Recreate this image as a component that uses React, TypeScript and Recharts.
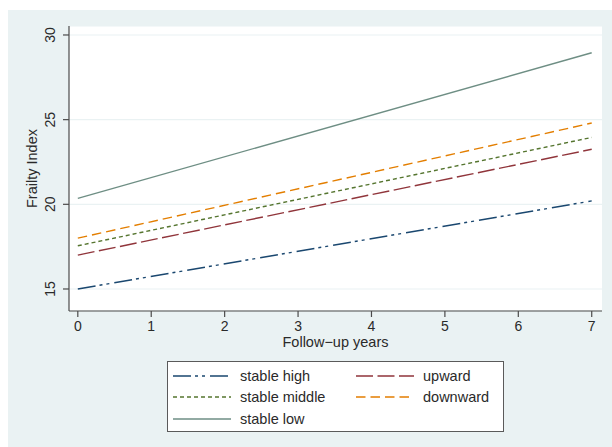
import { LineChart, Line, XAxis, YAxis, CartesianGrid, Legend, Label } from "recharts";

const YEARS = [0, 7];
const STABLE_HIGH = [15.0, 20.2];
const UPWARD = [17.0, 23.25];
const STABLE_MIDDLE = [17.55, 23.95];
const DOWNWARD = [18.0, 24.8];
const STABLE_LOW = [20.35, 28.95];

const X_TICKS = [0, 1, 2, 3, 4, 5, 6, 7];
const Y_TICKS = [15, 20, 25, 30];

// legend order follows Stata's row-wise fill
const SERIES = [
  { key: "stableHigh", name: "stable high", color: "#1a476f", dash: "18 4 3 4 3 5" },
  { key: "upward", name: "upward", color: "#90353b", dash: "17 4.5" },
  { key: "stableMiddle", name: "stable middle", color: "#55752f", dash: "4 3" },
  { key: "downward", name: "downward", color: "#e37e00", dash: "9.5 5" },
  { key: "stableLow", name: "stable low", color: "#6e8e84", dash: undefined as string | undefined },
];

const data = YEARS.map((year, i) => ({
  year,
  stableHigh: STABLE_HIGH[i],
  upward: UPWARD[i],
  stableMiddle: STABLE_MIDDLE[i],
  downward: DOWNWARD[i],
  stableLow: STABLE_LOW[i],
}));

const FONT = '"Liberation Sans", Arial, Helvetica, sans-serif';
const TEXT = "#2a2a2a";
const AXIS = "#4a4a4a";

function YTick(props: any) {
  const { y, payload } = props;
  return (
    <text
      x={42}
      y={y}
      transform={`rotate(-90, 42, ${y})`}
      textAnchor="middle"
      dominantBaseline="central"
      fill={TEXT}
      fontSize={14}
      fontFamily={FONT}
    >
      {payload.value}
    </text>
  );
}

function renderLegend() {
  return (
    <div
      style={{
        boxSizing: "border-box",
        width: 337,
        height: 71,
        border: "1px solid #5a5a5a",
        background: "#fff",
        display: "grid",
        gridTemplateColumns: "183px 150px",
        gridAutoRows: "21.65px",
        paddingTop: 3,
        paddingLeft: 5,
        fontFamily: FONT,
        fontSize: 14.5,
        color: TEXT,
      }}
    >
      {SERIES.map((s) => (
        <div key={s.key} style={{ display: "flex", alignItems: "center" }}>
          <svg width={58} height={4} style={{ marginRight: 9 }}>
            <line x1={0} y1={2} x2={58} y2={2} stroke={s.color} strokeWidth={1.3} strokeDasharray={s.dash} />
          </svg>
          <span>{s.name}</span>
        </div>
      ))}
    </div>
  );
}

export default function App() {
  return (
    <div style={{ position: "absolute", left: 8, top: 10, width: 604, height: 437, background: "#eaf2f3" }}>
      <LineChart width={604} height={437} data={data} margin={{ top: 16, right: 10, left: 0, bottom: 106 }}>
        <CartesianGrid vertical={false} stroke="#eaf2f3" strokeWidth={1.2} fill="#fff" fillOpacity={1} />
        <XAxis
          type="number"
          dataKey="year"
          domain={[-0.12, 7.14]}
          ticks={X_TICKS}
          height={30}
          tickSize={6}
          tickMargin={4}
          stroke={AXIS}
          strokeWidth={1.2}
          tick={{ fill: TEXT, fontSize: 14, fontFamily: FONT }}
        >
          <Label value="Follow−up years" position="bottom" offset={-4} fill={TEXT} fontSize={14.5} fontFamily={FONT} />
        </XAxis>
        <YAxis
          type="number"
          domain={[13.7, 30.53]}
          ticks={Y_TICKS}
          width={61}
          tickSize={6}
          stroke={AXIS}
          strokeWidth={1.2}
          tick={<YTick />}
          allowDataOverflow
        >
          <Label
            value="Frailty Index"
            angle={-90}
            position="insideLeft"
            offset={24}
            fill={TEXT}
            fontSize={14.5}
            fontFamily={FONT}
            style={{ textAnchor: "middle" }}
          />
        </YAxis>
        {SERIES.map((s) => (
          <Line
            key={s.key}
            dataKey={s.key}
            name={s.name}
            stroke={s.color}
            strokeWidth={1.4}
            strokeDasharray={s.dash}
            dot={false}
            activeDot={false}
            type="linear"
            isAnimationActive={false}
          />
        ))}
        <Legend
          layout="horizontal"
          verticalAlign="middle"
          align="center"
          wrapperStyle={{ left: 159, top: 351, width: 337, height: 71 }}
          content={renderLegend}
        />
      </LineChart>
    </div>
  );
}
